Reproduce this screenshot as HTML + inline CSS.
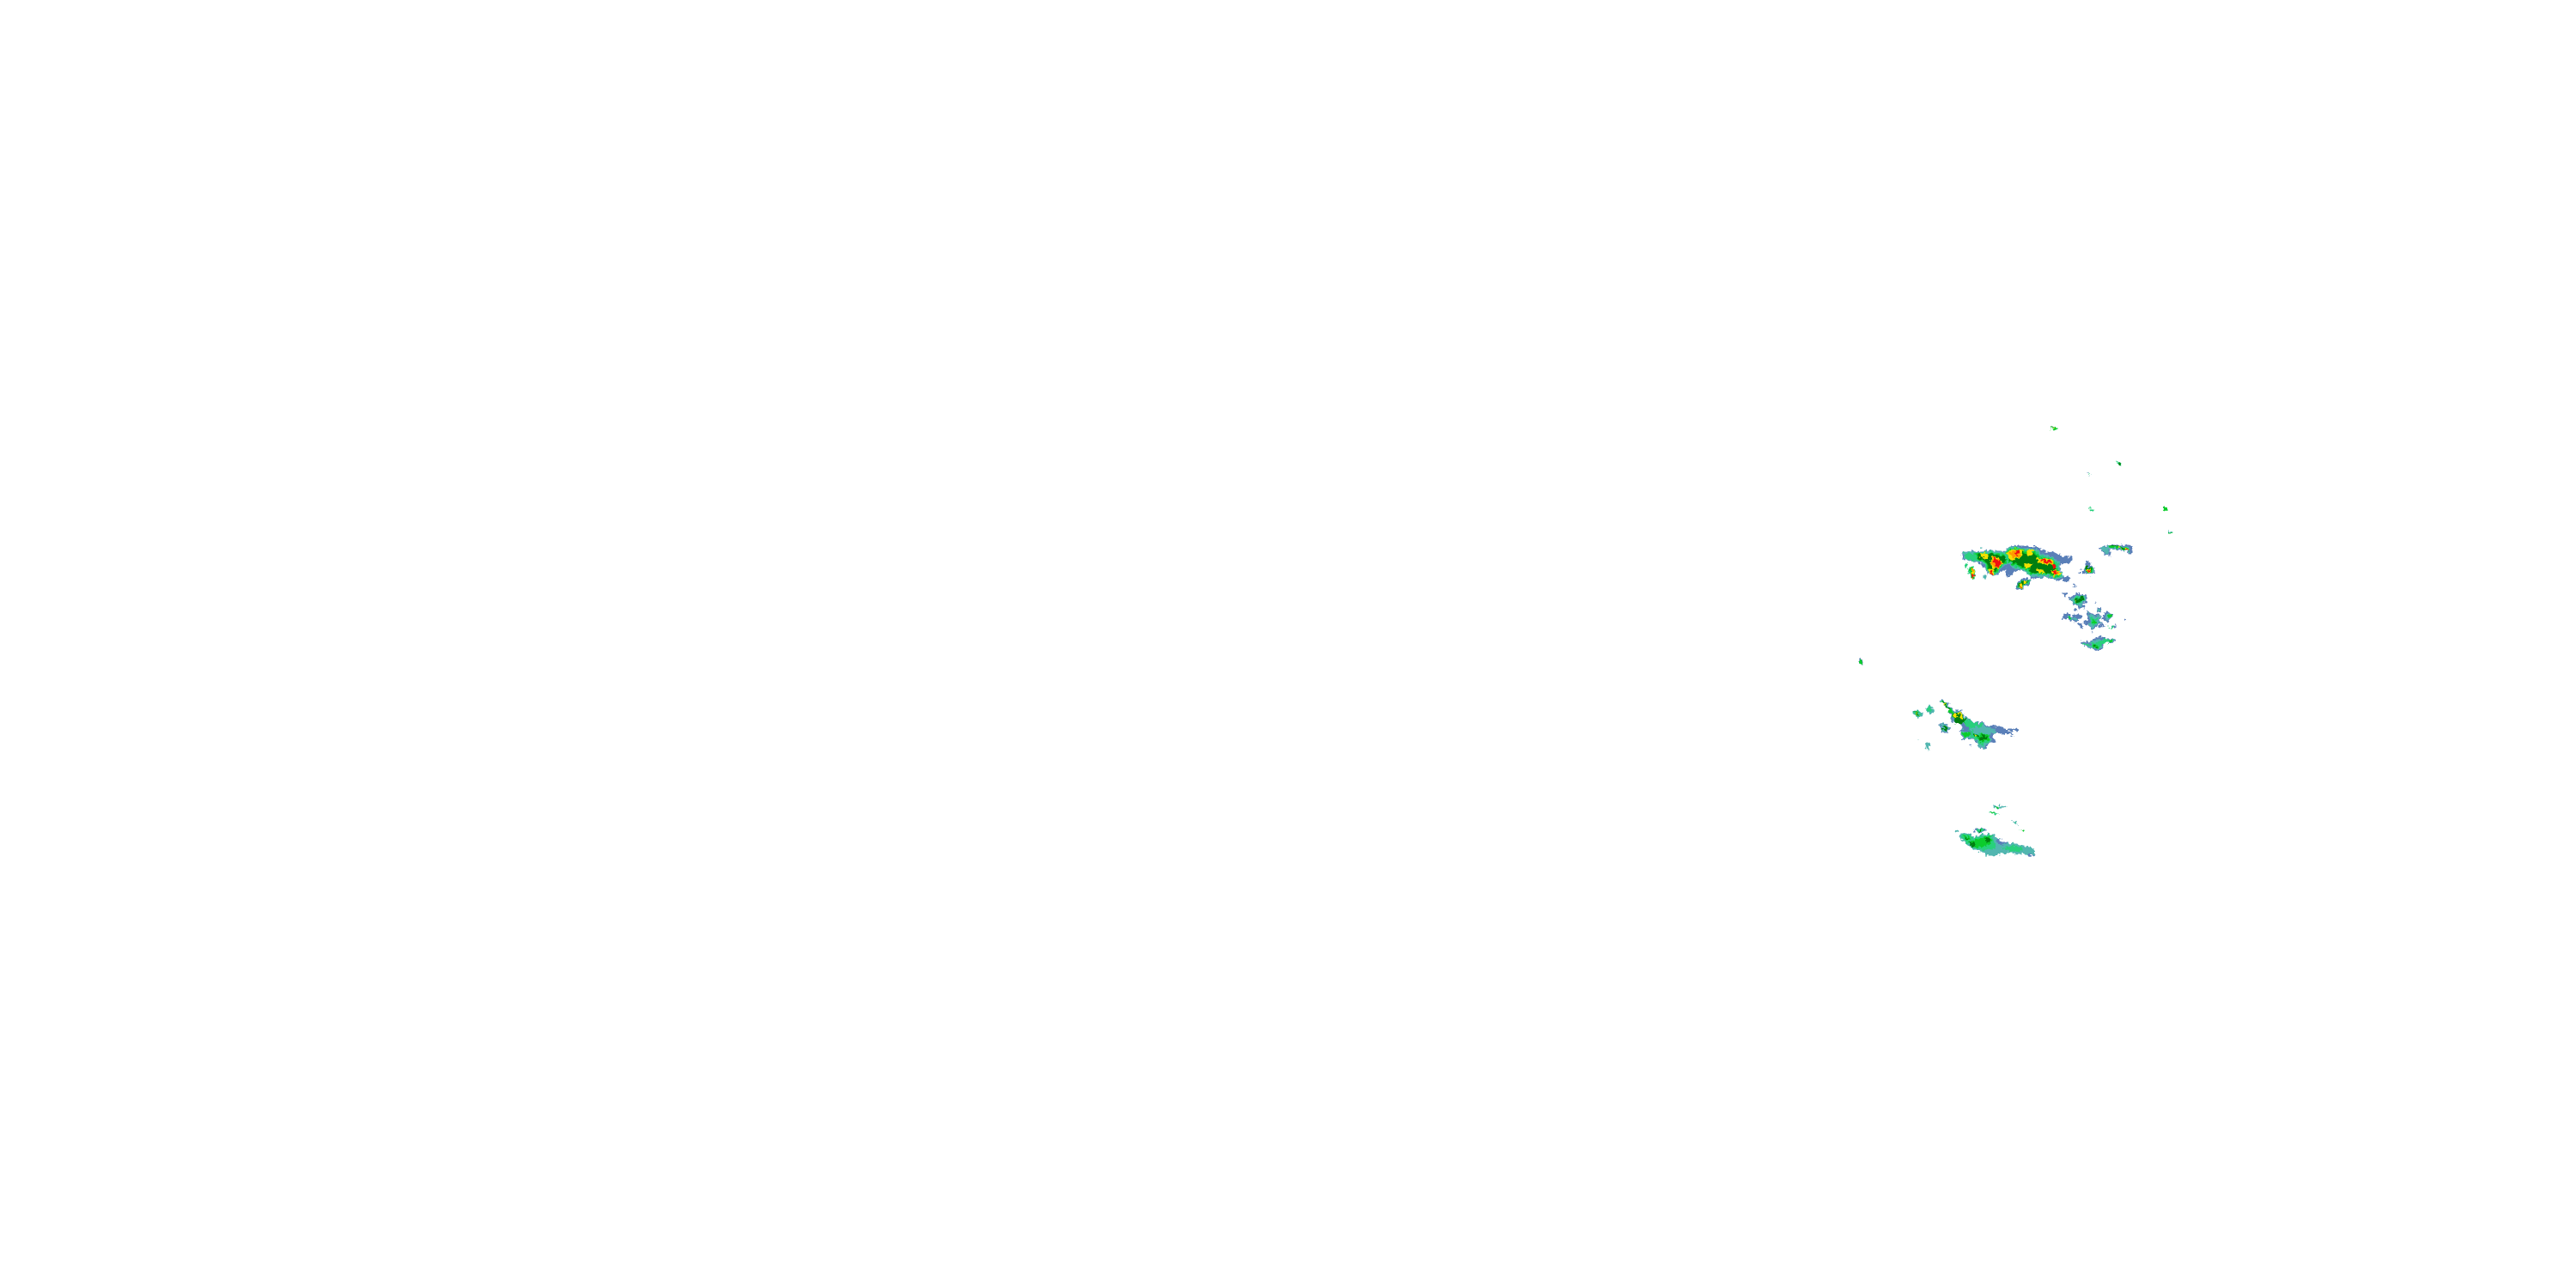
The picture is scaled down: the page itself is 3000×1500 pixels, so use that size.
<!DOCTYPE html>
<html><head><meta charset="utf-8"><title>Radar</title>
<style>html,body{margin:0;padding:0;background:#fff;width:3000px;height:1500px;overflow:hidden}svg{display:block}
.s{fill:#5a7fb8}.t{fill:#52b6b0}.l{fill:#28d07c}.g{fill:#0ccc2c}.d{fill:#007f10}.y{fill:#f2e000}.o{fill:#ff9a00}.r{fill:#f01010}</style></head>
<body>
<svg width="3000" height="1500" viewBox="0 0 3000 1500" xmlns="http://www.w3.org/2000/svg" shape-rendering="crispEdges">
<defs>
<filter id="j" filterUnits="userSpaceOnUse" x="2100" y="460" width="500" height="560" color-interpolation-filters="sRGB">
<feTurbulence type="fractalNoise" baseFrequency="0.28" numOctaves="2" seed="4" result="n"/>
<feDisplacementMap in="SourceGraphic" in2="n" scale="7" xChannelSelector="R" yChannelSelector="G"/>
</filter>
</defs>
<rect width="3000" height="1500" fill="#fff"/>
<g filter="url(#j)">

<!-- main band -->
<g transform="translate(2260 620) scale(.3333)">
<polygon class="s" points="75,72 100,64 140,68 180,62 225,68 235,52 265,44 290,48 335,48 365,64 400,72 430,84 460,88 456,106 430,108 415,116 425,152 452,158 446,176 425,166 400,166 370,156 340,158 322,162 308,146 280,132 255,136 242,156 228,152 230,132 215,136 190,150 165,146 155,130 145,112 115,102 80,96"/>
<polygon class="t" points="78,70 100,66 118,70 140,70 180,63 222,70 235,54 262,49 290,54 340,58 356,76 392,86 414,104 416,132 430,155 405,164 375,155 345,155 320,155 300,142 280,130 255,126 235,108 215,127 190,148 165,144 155,127 150,110 118,102 82,94"/>
<polygon class="l" points="82,73 118,74 180,67 222,75 238,57 262,53 290,59 338,64 350,82 390,90 410,108 412,134 424,152 405,160 375,150 345,150 320,150 302,137 280,125 255,120 235,102 215,122 190,145 168,141 158,125 152,107 118,98 86,90"/>
<polygon class="g" points="120,76 180,71 222,79 240,61 262,57 290,63 332,70 344,86 386,94 406,112 408,134 418,150 405,156 378,146 345,146 322,146 304,133 280,121 255,114 235,96 214,116 190,141 170,137 162,121 156,103 124,94"/>
<polygon class="d" points="128,78 178,75 222,85 242,67 262,63 290,69 326,76 338,92 382,98 402,116 404,134 412,148 404,152 380,142 345,142 324,142 306,129 280,117 258,108 234,92 212,110 190,137 172,133 166,119 162,101 130,90"/>
<polygon class="y" points="138,72 165,72 168,90 150,92 140,84"/>
<polygon class="y" points="178,84 210,90 218,110 200,128 178,122 172,100"/>
<polygon class="y" points="230,72 258,58 288,66 280,84 258,96 238,92"/>
<polygon class="y" points="300,64 322,62 320,80 304,82"/>
<polygon class="y" points="336,88 392,96 396,112 360,112 340,102"/>
<polygon class="y" points="292,108 322,110 316,124 296,126"/>
<polygon class="y" points="334,126 360,130 366,142 342,142"/>
<polygon class="y" points="384,132 416,132 420,150 396,154"/>
<polygon class="y" points="166,128 186,126 186,146 170,146"/>
<polygon class="o" points="178,88 208,94 214,110 198,124 182,118 176,100"/>
<polygon class="o" points="240,72 262,62 284,70 274,84 250,90"/>
<polygon class="o" points="344,90 388,98 390,110 358,108"/>
<polygon class="o" points="390,134 414,136 414,148 396,150"/>
<polygon class="r" points="182,92 190,88 200,100 210,96 214,110 198,124 188,112"/>
<polygon class="r" points="258,70 270,62 276,72 262,80"/>
<polygon class="r" points="352,92 384,98 384,106 358,104"/>
<polygon class="r" points="392,136 410,138 408,146 394,146"/>
<polygon class="r" points="174,132 182,132 180,144 174,144"/>
<polygon class="r" points="388,112 406,114 406,124 390,122"/>
<polygon class="l" points="222,72 236,78 238,92 228,96"/>

<polygon class="l" points="98,126 110,116 122,130 122,158 112,167 98,146"/>
<polygon class="g" points="102,128 112,120 118,132 120,156 112,162 102,146"/>
<polygon class="y" points="106,128 114,124 118,138 120,154 110,160 106,144"/>
<polygon class="r" points="108,146 118,144 118,156 110,158"/>
<polygon class="o" points="108,126 114,128 116,138 108,138"/>
<polygon class="l" points="84,112 94,110 94,124 86,124"/>
<polygon class="t" points="150,152 160,150 162,160 152,162"/>
<polygon class="s" points="264,182 282,164 300,160 316,168 312,180 292,190 286,202 268,200"/>
<polygon class="l" points="268,184 284,168 300,164 312,170 308,178 290,186 282,198 270,196"/>
<polygon class="d" points="272,186 284,172 302,168 306,174 288,182 282,194 272,192"/>
<polygon class="y" points="274,186 284,180 286,190 276,196"/>
<polygon class="y" points="288,168 300,168 298,176 290,176"/>
<polygon class="r" points="278,186 282,186 282,192 278,192"/>
<rect class="t" x="140" y="54" width="6" height="3"/>
<rect class="s" x="264" y="40" width="3" height="4"/>
<rect class="s" x="464" y="186" width="9" height="6"/>
</g>

<!-- right blobs -->
<g transform="translate(2380 620) scale(.3333)">
<polygon class="s" points="145,100 160,100 165,112 176,125 180,142 160,148 150,142 138,148 132,132 148,120"/>
<polygon class="t" points="146,122 164,118 176,128 176,142 156,146 146,140"/>
<polygon class="g" points="148,122 164,120 172,128 172,140 154,144 148,138"/>
<polygon class="d" points="148,122 164,120 168,128 166,140 154,142 148,134"/>
<polygon class="y" points="152,128 164,126 164,140 154,142"/>
<polygon class="r" points="156,130 162,130 160,138 156,138"/>
<polygon class="s" points="190,52 215,48 240,42 285,46 296,40 312,54 306,72 290,68 260,60 228,62 234,86 212,74"/>
<polygon class="t" points="198,54 230,46 285,50 300,52 302,66 285,66 260,56 226,58 228,80 212,70"/>
<polygon class="g" points="222,50 240,44 285,52 298,54 298,64 285,64 262,54 226,54"/>
<polygon class="d" points="232,46 246,44 284,54 296,56 294,62 282,60 262,50 236,50"/>
<polygon class="y" points="262,48 272,52 270,58 262,54"/>
<polygon class="y" points="282,56 296,56 296,66 286,64"/>
<polygon class="r" points="286,58 292,58 292,64 286,62"/>
<rect class="g" x="438" y="0" width="10" height="5"/>
<rect class="s" x="120" y="140" width="6" height="3"/>
</g>

<!-- mid scattered -->
<g transform="translate(2390 680) scale(.3333)">
<polygon class="s" points="58,46 84,36 116,38 124,60 112,66 114,86 94,90 88,76 70,68"/>
<polygon class="t" points="64,52 84,40 114,42 120,60 108,64 108,78 94,82 84,72 70,64"/>
<polygon class="l" points="74,54 86,42 110,44 114,58 102,68 86,70 72,62"/>
<polygon class="d" points="76,56 84,50 92,54 100,44 110,48 110,56 96,64 84,66 76,62"/>
<polygon class="y" points="80,58 84,58 84,62 80,62"/>
<polygon class="s" points="40,32 48,32 50,44 40,42"/>
<polygon class="s" points="76,6 84,6 84,12 76,12"/>
<polygon class="s" points="72,84 88,88 90,96 74,90"/>
<rect class="s" x="148" y="62" width="6" height="4"/>

<polygon class="s" points="36,116 46,102 72,112 86,110 102,104 108,116 88,124 86,134 66,130 54,124 38,122"/>
<polygon class="t" points="54,112 72,116 86,114 84,128 66,126 54,120"/>
<polygon class="g" points="58,114 70,116 68,124 58,122"/>
<polygon class="s" points="116,96 126,100 150,106 168,110 168,130 176,138 158,146 146,158 130,156 128,138 116,142 108,134 124,126"/>
<polygon class="t" points="122,100 150,112 166,112 164,128 172,138 154,144 144,154 132,152 132,130 128,112"/>
<polygon class="l" points="132,118 146,124 160,118 156,132 148,146 138,146"/>
<polygon class="g" points="140,126 150,128 154,132 146,142 140,138"/>
<polygon class="s" points="158,86 172,82 172,96 158,98"/>
<polygon class="t" points="160,88 170,86 170,94 160,94"/>
<polygon class="s" points="176,112 186,96 200,102 216,106 206,120 194,132 176,122"/>
<polygon class="t" points="188,104 204,106 214,106 204,118 192,128 186,118"/>
<polygon class="g" points="194,112 204,108 212,108 202,118 196,120"/>
<polygon class="s" points="90,136 102,142 112,150 106,158 94,148"/>
<polygon class="s" points="196,152 216,146 228,142 222,152 206,158"/>
<polygon class="l" points="198,152 218,148 216,154 202,158"/>
<polygon class="s" points="160,144 184,140 186,146 166,152"/>
<polygon class="s" points="252,120 260,124 256,130 252,128"/>
<rect class="s" x="136" y="166" width="6" height="6"/>

<polygon class="s" points="96,200 108,198 136,206 138,194 166,184 184,186 188,190 222,192 224,200 206,206 178,206 176,226 160,236 140,226 104,214"/>
<polygon class="t" points="104,206 136,210 142,198 166,192 186,194 216,194 216,202 200,204 172,208 170,226 158,230 136,222 108,214"/>
<polygon class="l" points="106,208 132,212 160,204 178,194 186,192 214,194 210,202 188,206 166,216 162,224 146,222 132,216 108,214"/>
<polygon class="g" points="136,214 152,212 164,218 158,224 142,222"/>
<polygon class="d" points="142,216 150,214 156,220 146,222"/>
<polygon class="g" points="200,196 212,196 208,202 200,202"/>
</g>

<!-- lower blob group -->
<g transform="translate(2210 800) scale(.3333)">
<polygon class="s" points="142,48 156,44 186,68 196,82 222,84 240,108 268,124 300,122 312,136 358,136 370,146 420,144 422,154 386,152 410,170 396,170 356,162 330,164 344,194 320,196 310,216 288,218 278,192 254,180 228,184 220,160 226,124 194,124 186,102 176,72"/>
<polygon class="t" points="144,48 156,46 186,72 196,86 222,86 240,110 268,126 298,124 306,138 338,146 346,160 320,166 330,190 312,200 302,216 288,214 278,190 254,178 232,182 222,158 230,130 198,122 190,104 178,74"/>
<polygon class="l" points="146,50 156,48 184,74 196,90 222,90 238,112 268,128 300,128 290,140 270,140 252,146 268,162 290,162 322,166 320,190 308,194 294,206 278,186 252,174 232,176 222,160 238,154 236,128 200,120 192,104 176,72"/>
<polygon class="s" points="222,130 232,128 248,146 262,166 252,160 226,150"/>
<polygon class="g" points="150,52 160,50 180,72 196,96 222,92 236,112 236,128 200,120 192,104 172,70"/>
<polygon class="d" points="154,52 160,54 176,72 186,76 178,78 162,64"/>
<polygon class="d" points="192,92 218,88 238,112 232,128 204,128 196,112"/>
<polygon class="y" points="196,92 204,90 208,108 198,108"/>
<polygon class="y" points="212,86 222,88 230,108 220,110"/>
<polygon class="y" points="160,58 166,58 166,64 160,64"/>
<polygon class="g" points="222,158 252,160 256,170 236,176"/>
<polygon class="d" points="262,164 284,166 290,172 268,172"/>
<polygon class="y" points="270,166 280,168 278,172 270,172"/>
<polygon class="g" points="280,176 294,164 318,168 322,180 304,192 284,190"/>
<polygon class="d" points="288,180 296,168 314,172 316,178 304,186 290,188"/>
<polygon class="t" points="50,84 66,82 92,90 88,100 70,106 56,98"/>
<polygon class="l" points="54,86 66,84 78,92 74,100 62,100"/>
<polygon class="d" points="58,88 66,86 74,94 68,98"/>
<polygon class="y" points="64,90 68,90 68,96 64,96"/>
<polygon class="t" points="98,72 110,64 124,78 130,90 116,92 102,88"/>
<polygon class="l" points="102,74 110,68 120,80 112,88 104,84"/>
<polygon class="s" points="148,128 166,126 182,146 170,164 154,156"/>
<polygon class="t" points="150,130 166,128 180,146 168,160 156,152"/>
<polygon class="d" points="154,138 166,134 176,148 164,152"/>
<polygon class="t" points="96,212 100,194 112,196 110,212 116,224 104,224"/>
<rect class="t" x="74" y="186" width="6" height="3"/>
<rect class="s" x="250" y="202" width="8" height="4"/>
</g>

<!-- bottom blob -->
<g transform="translate(2260 925) scale(.3333)">
<polygon class="t" points="186,40 210,40 236,44 222,50 190,50"/>
<polygon class="g" points="194,42 204,42 204,46 194,46"/>
<polygon class="l" points="168,60 178,60 200,68 200,72 180,68"/>
<polygon class="g" points="174,60 188,64 186,68 176,66"/>
<polygon class="t" points="248,96 266,96 270,106 254,102"/>
<polygon class="l" points="254,98 264,100 262,102 254,102"/>
<rect class="g" x="284" y="126" width="12" height="3"/>
<rect class="l" x="276" y="123" width="3" height="3"/>
<polygon class="t" points="48,124 60,126 62,134 50,132"/>
<polygon class="s" points="116,122 150,118 162,124 150,134 120,130"/>
<polygon class="l" points="124,122 148,120 152,128 128,132"/>
<polygon class="d" points="130,124 142,124 140,130 132,130"/>
<polygon class="t" points="64,148 74,134 104,138 118,152 146,140 182,140 198,156 232,168 288,178 330,190 326,212 262,210 246,202 190,214 168,218 150,204 124,198 92,176 78,160"/>
<polygon class="s" points="200,158 232,166 236,172 212,178 196,172"/>
<polygon class="s" points="300,208 330,210 326,214 304,214"/>
<polygon class="l" points="72,150 78,138 102,142 118,156 150,142 178,144 190,168 192,190 150,196 122,190 96,172"/>
<polygon class="l" points="210,186 250,180 286,186 280,200 244,200"/>
<polygon class="g" points="100,170 118,162 148,152 176,146 180,176 150,182 118,190"/>
<polygon class="g" points="82,146 98,146 104,158 88,160"/>
<polygon class="d" points="154,156 176,150 176,164 158,166"/>
<polygon class="d" points="102,170 120,168 124,184 108,182"/>
<polygon class="d" points="84,150 96,150 94,158 86,156"/>
</g>

<!-- small isolated -->
<g transform="translate(2380 480) scale(.3333)">
<polygon class="g" points="27,51 48,51 48,60 27,60"/>
<polygon class="d" points="27,51 36,51 36,54 27,54"/>
<polygon class="y" points="30,54 40,54 40,57 30,57"/>
<polygon class="l" points="252,174 264,174 270,180 270,186 260,182"/>
<polygon class="d" points="258,177 267,180 267,183 258,180"/>
<rect class="s" x="150" y="215" width="6" height="3"/>
<rect class="l" x="156" y="215" width="6" height="3"/>
<rect class="t" x="162" y="218" width="3" height="3"/>
<polygon class="l" points="159,336 171,336 171,342 165,342 165,339 159,339"/>
<polygon class="g" points="417,336 423,330 429,334 435,342 427,347 417,342"/>
<rect class="s" x="417" y="330" width="3" height="4"/>
<polygon class="t" points="438,411 441,411 441,414 450,417 450,420 438,420"/>
<rect class="g" x="438" y="417" width="3" height="3"/>
</g>
<g transform="translate(2150 750) scale(.3333)">
<polygon class="s" points="42,50 48,48 60,66 58,72 50,70 42,58"/>
<polygon class="g" points="46,54 50,54 56,66 50,70 46,60"/>
</g>
</g>
</svg>
</body></html>
